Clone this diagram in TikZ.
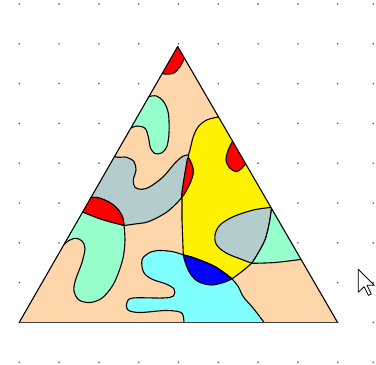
\documentclass[tikz,border=0pt]{standalone}
\begin{document}
\definecolor{peach}{RGB}{255,213,170}
\definecolor{mint}{RGB}{150,255,204}
\definecolor{slate}{RGB}{180,204,204}
\definecolor{aqua}{RGB}{128,255,255}
\definecolor{dotgray}{RGB}{90,90,90}
\tikzset{
  region/.style={draw=black, line width=1.1pt, line join=round},
  smoothed/.style={smooth, tension=0.55},
  smoothloop/.style={smooth cycle, tension=0.55},
  griddot/.style={fill=dotgray, draw=none},
}
\begin{tikzpicture}[x=1pt, y=-1pt]
\useasboundingbox (0,0) rectangle (376,365);
\fill[white] (0,0) rectangle (376,365);

% background dot grid
\foreach \gx in {19.3,59.1,98.9,138.7,178.5,218.3,258.1,297.9,337.7,373.3}
  \foreach \gy in {4,43.8,83.6,123.4,163.2,203,242.8,282.6,322.4,362.2}
    \fill[griddot] (\gx,\gy) circle (0.9);

% triangle corners
\coordinate (A) at (177.7,46.5);
\coordinate (B) at (19.3,322.3);
\coordinate (C) at (337.5,322.3);

\fill[peach] (A) -- (B) -- (C) -- cycle;

\begin{scope}
\clip (A) -- (B) -- (C) -- cycle;

% red cap at the apex
\filldraw[region, fill=red] plot[smoothed] coordinates {(184.5,58) (180,66.7) (173.3,73.3) (164.5,74)}
  -- (150,70) -- (178,30) -- (195,55) -- cycle;

% upper mint lobe
\filldraw[region, fill=mint] plot[smoothed] coordinates {(149,96.5) (156.5,96) (163.5,101.5) (168.3,113) (169,133)
  (166.7,147) (161.5,153) (155,153.5) (150.5,148) (148.3,136.7) (145,128.3) (137.3,126) (131,128)}
  -- (110,120) -- (130,80) -- cycle;

% grey band on the left
\filldraw[region, fill=slate] plot[smoothed] coordinates {(114.6,156.5) (118.3,157.3) (126.7,157.3) (134,161.7) (136,170)
  (133.3,180) (135,187.3) (141.7,189.3) (150,186.7) (163.3,176.7) (175,163) (183.3,156) (189,155)}
  -- (186,170) -- (182,197)
  -- plot[smoothed] coordinates {(182,197) (176.7,203.3) (165,213.3) (148.3,221.7) (135,224) (124,225.5)}
  -- plot[smoothed] coordinates {(124,225.5) (122.5,217) (117,208.3) (108.3,201.7) (97,197.5) (89,198)}
  -- (70,190) -- (100,150) -- cycle;

% red patch on the left edge
\filldraw[region, fill=red] plot[smoothed] coordinates {(83.3,212.3) (101.7,219.5) (124,225.5)}
  -- plot[smoothed] coordinates {(124,225.5) (122.5,217) (117,208.3) (108.3,201.7) (97,197.5) (89,198)}
  -- (70,190) -- (70,215) -- cycle;

% lower-left mint lobe
\filldraw[region, fill=mint] plot[smoothed] coordinates {(63.5,245) (67,241.7) (75,238.3) (81.7,240.7) (85,248.3)
  (81.7,263.3) (75.5,280) (74,291) (79,300) (90,302.5) (101.7,298.3) (111.7,287) (118.3,273.3) (123.3,256.7) (125,240) (124,225.5)}
  -- plot[smoothed] coordinates {(124,225.5) (101.7,219.5) (83.3,212.3)}
  -- (60,200) -- (50,245) -- cycle;

% yellow field
\filldraw[region, fill=yellow] plot[smoothed] coordinates {(218,117) (206.7,120) (198.3,126.7) (193.3,136.7) (190,150)
  (188.3,158.3) (193.3,170) (190,183.3) (182,197)}
  -- (182,220) -- (183.3,255)
  -- plot[smoothed] coordinates {(183.3,255) (195,258.3) (215,266.7) (232,278.8)}
  -- plot[smoothed] coordinates {(232,278.8) (241.7,271.7) (251.7,263.3)}
  -- (300,250) -- (240,90) -- cycle;

% red lens at the yellow border
\filldraw[region, fill=red] plot[smoothloop] coordinates {(188.3,157.5) (193.3,170) (190,183.3) (181.8,197) (183.5,182) (186,167)};

% red drop near the right edge
\filldraw[region, fill=red] plot[smoothed] coordinates {(231.7,142.7) (228.3,150) (226,160) (230,168.3) (236.7,171.7) (241.7,168.3) (246,163.3)}
  -- (260,160) -- (240,130) -- cycle;

% grey lobe on the right
\filldraw[region, fill=slate] plot[smoothed] coordinates {(271.7,207.3) (253.3,210) (233.3,216.7) (220,225) (215,235)
  (216.7,245) (226.7,253.3) (243.3,260) (251.7,263.3)}
  -- plot[smoothed] coordinates {(251.7,263.3) (257,255) (265,240) (269.3,223.3) (271.7,207.3)} -- cycle;

% mint corner on the right
\filldraw[region, fill=mint] plot[smoothed] coordinates {(271.7,207.3) (269.3,223.3) (265,240) (257,255) (251.7,263.3)}
  -- plot[smoothed] coordinates {(251.7,263.3) (275,262.5) (301.7,259.3)}
  -- (320,250) -- (280,200) -- cycle;

% cyan lake at the base
\filldraw[region, fill=aqua] plot[smoothed] coordinates {(183.3,255) (173,251.7) (158.3,250.5) (148.3,253.3) (142,260)
  (143.5,272) (151.7,279) (166,284) (174,289) (173.5,296) (163,298) (133,298) (127,302.5) (128,310) (140,312.5)
  (165,310.5) (180,312) (183.5,317) (184,330)}
  -- (270,330)
  -- plot[smoothed] coordinates {(264.5,323) (253.3,308.3) (243.3,296.7) (238.3,286.7) (232,278.8)}
  -- plot[smoothed] coordinates {(232,278.8) (215,266.7) (195,258.3) (183.3,255)} -- cycle;

% blue pocket
\filldraw[region, fill=blue] plot[smoothed] coordinates {(183.3,255) (195,258.3) (215,266.7) (232,278.8)}
  -- plot[smoothed] coordinates {(232,278.8) (225,282) (211.7,285) (198.3,281.7) (190,273.3) (185,261.7) (183.3,255)} -- cycle;
\end{scope}

% triangle outline
\draw[line width=1.1pt, line join=round] (B) -- (A) -- (C);
\draw[line width=1.6pt, draw=black!75] (B) -- (C);

% mouse pointer
\filldraw[fill=white, draw=black, line width=0.8pt, line join=round, shift={(358.3,269.3)}]
  (0,0) -- (0,23) -- (5.8,17.4) -- (10.2,26.1) -- (13,24.7) -- (8.7,16) -- (16,16) -- cycle;
\end{tikzpicture}
\end{document}
